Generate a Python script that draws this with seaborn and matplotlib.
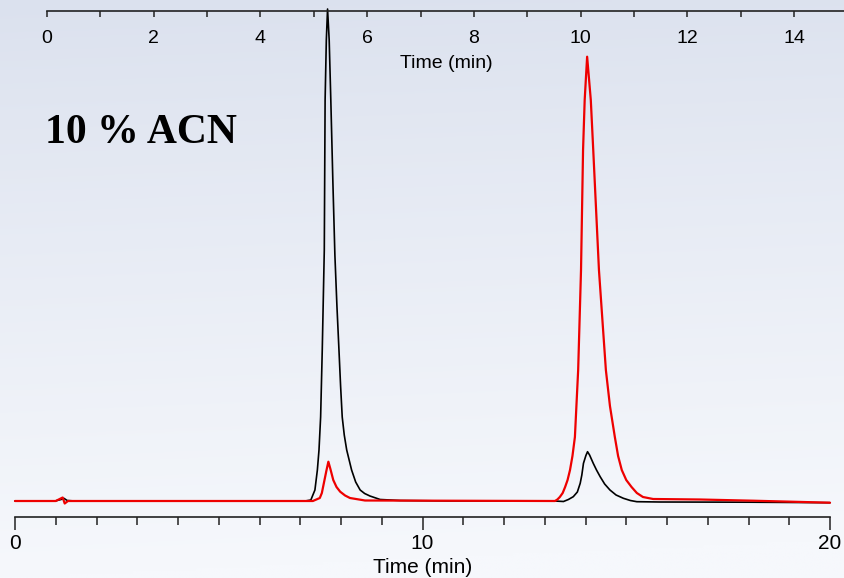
import numpy as np
import pandas as pd
import matplotlib
matplotlib.use("Agg")
import matplotlib.pyplot as plt
import seaborn as sns
from matplotlib.ticker import MultipleLocator

# Chromatogram traces (time in min on the 0-20 scale, detector signal in a.u.)
black_time = [0.00, 0.98, 1.13, 1.20, 1.28, 1.47, 7.12, 7.26, 7.36, 7.42, 7.46, 7.50,
              7.54, 7.59, 7.61, 7.64, 7.67, 7.71, 7.75, 7.80, 7.85, 7.90, 7.95, 7.99,
              8.03, 8.08, 8.14, 8.26, 8.36, 8.47, 8.58, 8.71, 8.96, 9.45, 10.67,
              13.25, 13.46, 13.58, 13.70, 13.80, 13.87, 13.91, 13.95, 14.01, 14.05,
              14.10, 14.19, 14.27, 14.36, 14.47, 14.60, 14.75, 14.93, 15.10, 15.26,
              15.83, 18.04, 20.00]
black_signal = [0.0, 0.0, 1.5, 2.7, 0.5, 0.0, 0.0, 1.0, 11, 31, 51, 84,
                151, 251, 401, 461, 492, 461, 401, 320, 246, 195, 151, 115,
                84, 66, 51, 31, 19, 11, 7.5, 5, 1.5, 0.5, 0.0,
                0.0, -0.5, 1.5, 4.3, 9.0, 17.7, 26.0, 37.7, 45.5, 49.3,
                46.0, 37.7, 31.0, 24.3, 17.0, 11.0, 6.0, 2.7, 0.5, -0.7,
                -1.0, -1.2, -1.7]

red_time = [0.00, 1.00, 1.17, 1.22, 1.30, 7.31, 7.48, 7.53, 7.58, 7.64, 7.69, 7.74,
            7.81, 7.89, 7.98, 8.10, 8.22, 8.59, 13.25, 13.31, 13.37, 13.44, 13.50,
            13.56, 13.62, 13.68, 13.74, 13.82, 13.89, 13.94, 13.98, 14.04, 14.13,
            14.19, 14.33, 14.42, 14.50, 14.60, 14.72, 14.80, 14.89, 15.00, 15.13,
            15.26, 15.41, 15.66, 16.81, 18.11, 20.00]
red_signal = [0.0, 0.0, 3.5, -2.5, 0.0, 0.0, 3.0, 8.0, 18.0, 30.0, 39.3, 32.0,
              21.0, 14.0, 9.3, 5.5, 3.0, 0.5, 0.0, 1.5, 4.0, 8.0, 14.0,
              21.0, 31.0, 45.0, 64.0, 131, 231, 351, 401, 444.3, 401,
              351, 231, 178, 131, 95, 64, 45, 31, 21, 14,
              8, 4, 2, 1.5, 0.3, -1.7]

# Secondary time scale shown along the top
top_ticks = [0, 2, 4, 6, 8, 10, 12, 14]
bottom_ticks = [0, 10, 20]
title_text = "10 % ACN"
axis_label = "Time (min)"

sns.set_theme(style="white")
plt.rcParams["font.family"] = ["Liberation Sans", "DejaVu Sans"]
plt.rcParams["text.color"] = "black"
plt.rcParams["axes.labelcolor"] = "black"
plt.rcParams["xtick.color"] = "black"

W, H = 845, 578
fig = plt.figure(figsize=(W / 100, H / 100), dpi=100)

# Slide-style gradient background
bg = fig.add_axes([0, 0, 1, 1], zorder=-10)
ny, nx = 200, 200
yy = np.linspace(0, 1, ny)[:, None]
xx = np.linspace(0, 1, nx)[None, :]
top_c = np.array([219, 225, 238]) / 255.0
bot_c = np.array([246, 248, 252]) / 255.0
mix = np.clip(yy ** 0.9 + 0.06 * xx, 0, 1)
img = top_c[None, None, :] * (1 - mix[..., None]) + bot_c[None, None, :] * mix[..., None]
bg.imshow(img, aspect="auto", extent=[0, 1, 0, 1], origin="upper")
bg.set_axis_off()

# Main chromatogram axes (bottom time scale)
ax = fig.add_axes([15 / W, (H - 517) / H, 815 / W, 517 / H])
ax.patch.set_alpha(0)
black_df = pd.DataFrame({"time": black_time, "signal": black_signal})
red_df = pd.DataFrame({"time": red_time, "signal": red_signal})
sns.lineplot(data=black_df, x="time", y="signal", color="black", lw=1.2,
             estimator=None, sort=False, ax=ax, clip_on=False)
sns.lineplot(data=red_df, x="time", y="signal", color="#ee0000", lw=1.6,
             estimator=None, sort=False, ax=ax, clip_on=False)
ax.set_xlim(0, 20)
ax.set_ylim(-16, 501)
for side in ["top", "right", "left"]:
    ax.spines[side].set_visible(False)
ax.spines["bottom"].set_color("#222222")
ax.spines["bottom"].set_linewidth(1.2)
ax.set_yticks([])
ax.set_xticks(bottom_ticks)
ax.xaxis.set_minor_locator(MultipleLocator(1))
ax.tick_params(axis="x", which="major", direction="out", length=9.5, width=1.1,
               color="#222222", labelsize=15, pad=3, bottom=True, labelcolor="black")
ax.tick_params(axis="x", which="minor", direction="out", length=5.5, width=1.1,
               color="#222222", bottom=True)
ax.set_xlabel(axis_label, fontsize=15, labelpad=3, color="black")
ax.set_ylabel("")

# Top time scale
ax2 = fig.add_axes([47 / W, (H - 11) / H, 798 / W, 0.0005])
ax2.patch.set_alpha(0)
ax2.set_xlim(0, 798 / 53.36)
for side in ["top", "right", "left"]:
    ax2.spines[side].set_visible(False)
ax2.spines["bottom"].set_color("#222222")
ax2.spines["bottom"].set_linewidth(1.2)
ax2.set_yticks([])
ax2.set_xticks(top_ticks)
ax2.xaxis.set_minor_locator(MultipleLocator(1))
ax2.tick_params(axis="x", which="both", direction="out", length=4.5, width=1.1,
                color="#222222", labelsize=14, pad=9, bottom=True, labelcolor="black")
ax2.set_xlabel(axis_label, fontsize=14, labelpad=6, color="black")

fig.text(45 / W, (H - 143) / H, title_text, fontsize=30, fontweight="bold",
         family=["Liberation Serif", "DejaVu Serif"], va="baseline", ha="left",
         color="black")

fig.savefig("out.png", dpi=100)
